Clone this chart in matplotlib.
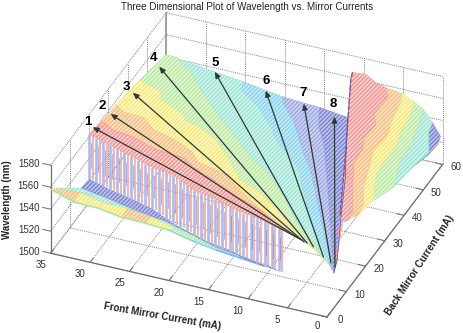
import numpy as np
import matplotlib
matplotlib.use('Agg')
import matplotlib.pyplot as plt
from mpl_toolkits.mplot3d import proj3d
from mpl_toolkits.mplot3d.art3d import Poly3DCollection

plt.rcParams['font.family'] = ['Liberation Sans', 'DejaVu Sans']
plt.rcParams['hatch.linewidth'] = 0.8

TITLE = "Three Dimensional Plot of Wavelength vs. Mirror Currents"
front_ticks = [0, 5, 10, 15, 20, 25, 30, 35]
back_ticks = [0, 10, 20, 30, 40, 50, 60]
nm_ticks = [1500, 1520, 1540, 1560, 1580]

# mode jump between the low strip and the plateau (one row per mA)
cliff_front = [35, 34, 33, 32, 31, 30, 29, 28, 27, 26, 25, 24, 23, 22, 21, 20, 19, 18, 17, 16, 15, 14, 13, 12, 11, 10, 9, 8]
cliff_back = [20.0, 19.5, 19.1, 18.6, 18.2, 17.7, 17.3, 16.8, 16.3, 15.9, 15.4, 15.0, 14.5, 14.1, 13.6, 13.1, 12.7, 12.2, 11.8, 11.3, 10.9, 10.4, 9.9, 9.5, 9.0, 8.6, 8.1, 7.7]
cliff_top_nm = [1562.1, 1561.5, 1561, 1560.4, 1559.8, 1559, 1558.4, 1557.8, 1557, 1556.5, 1556.8, 1557, 1557.5, 1555.5, 1553.5, 1552, 1552, 1552, 1551.8, 1551, 1550.5, 1550.1, 1550.4, 1550.8, 1551, 1550.6, 1550.2, 1549.9]
cliff_low_nm = [1521.2, 1520.6, 1520, 1519.5, 1519.4, 1519.4, 1519.3, 1519, 1518.6, 1518.3, 1516.5, 1514.7, 1512.9, 1512.3, 1511.7, 1511.1, 1510, 1509, 1508.2, 1508.8, 1509.4, 1510, 1510, 1510, 1510, 1510.3, 1510.5, 1510.8]

# low strip, one row every 3 mA
strip_front = [35, 32, 29, 26, 23, 20, 17, 14, 11, 8]
strip_edge_nm = [1558.2, 1551.4, 1550.9, 1547.6, 1547.2, 1545.8, 1540.8, 1537.6, 1535.4, 1533.1]  # back = 0
strip_mid_nm = [1552.2, 1553, 1548.5, 1548.5, 1545.7, 1540.7, 1535.7, 1530.7, 1528.5, 1526.2]  # back = 3
strip_blue_back = [16, 14.6, 13.3, 11.9, 10.5, 9.1, 7.8, 6.4, 5, 3.7]
strip_blue_nm = [1522.3, 1523.2, 1523, 1523.5, 1524.8, 1523.5, 1521.8, 1522.9, 1521.1, 1523.2]
strip_top_back = [20.0, 18.6, 17.3, 15.9, 14.5, 13.1, 11.8, 10.4, 9.0, 7.7]
strip_top_nm = [1521.2, 1519.5, 1519.3, 1518.3, 1512.9, 1511.1, 1508.2, 1510, 1510, 1510.8]
strip_mid_band = [1, 2, 2, 1, 2, 3, 4, 5, 5]
strip_cyan_band = [4, 4, 4, 4, 4, 4, 4, 5, 5]

# colour band borders on the plateau left of the second jump
left1_front = [35, 34.7, 32.9, 30.2, 28.6, 26.5, 25.2, 23.1, 21.3, 18.0, 14.1, 10.5, 7.0, 4.4, 3.2]
left1_back = [23.5, 25.9, 24.0, 23.2, 22.0, 20.7, 20.5, 20.1, 17.8, 15.0, 11.2, 8.6, 4.4, 2.4, 1.7]
left1_nm = 1560
left2_front = [35, 33.6, 31.0, 28.9, 26.0, 22.8, 21.6, 17.9, 13.4, 9.7, 5.9, 2.2]
left2_back = [34.1, 32.3, 31.9, 28.6, 27.1, 24.0, 21.3, 19.6, 13.4, 8.9, 5.0, 1.7]
left2_nm = 1556
left3_front = [34.9, 31.6, 31.0, 27.8, 26.3, 24.4, 21.8, 18.3, 15.9, 12.7, 9.4, 5.4, 0.6]
left3_back = [45.7, 43.4, 40.7, 37.9, 35.4, 34.4, 31.6, 25.0, 20.1, 17.2, 12.8, 6.7, 0.3]
left3_nm = 1552
left4_front = [35, 33.5, 32.4, 30.8, 28.4, 24.0, 20.3, 17.6, 14.4, 10.7, 7.1, 0.4]
left4_back = [59.9, 59.8, 57.9, 55.8, 50.9, 43.0, 37.0, 32.3, 28.2, 21.4, 13.7, 2.4]
left4_nm = 1542
left5_front = [25.2, 24.8, 21.6, 18.6, 16.5, 12.4, 9.9, 6.7, 0.5]
left5_back = [59.8, 56.9, 52.6, 46.8, 42.0, 35.5, 28.2, 18.7, 4.2]
left5_nm = 1534
left6_front = [20.3, 19.8, 16.9, 14.2, 11.0, 6.6, 0.8]
left6_back = [60, 58.1, 52.2, 44.7, 36.7, 23.4, 5.8]
left6_nm = 1528
left7_front = [15.6, 14.3, 12.1, 8.4, 4.4, 0.85]
left7_back = [60, 54.2, 47.9, 34.7, 19.9, 6.7]
left7_nm = 1526
left8_front = [12.0, 9.0, 7.4, 4.4, 1.5, 0.8]
left8_back = [59.9, 46.7, 39.9, 25.1, 11.4, 6.8]
left8_nm = 1523

# colour band borders right of the second jump
right0_front = [6.5, 8.0, 9.8, 11.3, 10.9, 8.9, 5.2, 1.0, 0.0]
right0_back = [57.1, 58.0, 60, 59.5, 57.0, 47.8, 30.8, 10.9, 3.9]
right0_nm = [1566, 1566, 1566, 1566, 1566, 1566, 1566, 1566, 1532]
right1_front = [6.9, 5.9, 5.9, 4.9, 5.1, 4.3, 4.2, 3.6, 2.1, 0.3, 0.1, 0.5]
right1_back = [58.5, 55.7, 48.5, 45.3, 40.0, 35.9, 30.9, 28.5, 21.7, 14.3, 11.3, 10.2]
right1_nm = 1562
right2_front = [5.2, 4.6, 4.0, 3.3, 3.6, 3.1, 1.6, 0.2, 0.0]
right2_back = [60, 56.9, 49.4, 45.1, 39.0, 35.4, 25.4, 19.7, 16.2]
right2_nm = [1556, 1556, 1556, 1556, 1556, 1556, 1556, 1556, 1555.5]
right3_front = [3.7, 3.1, 2.6, 1.9, 2.0, 1.6, 0.0]
right3_back = [60.1, 56.2, 48.7, 43.3, 37.3, 31.6, 24.0]
right3_nm = [1551, 1551, 1551, 1551, 1551, 1551, 1550.2]
right4_front = [2.4, 1.6, 0.95, 0.8, 0.0]
right4_back = [60, 53.9, 47.2, 41.4, 34.4]
right4_nm = [1546, 1546, 1546, 1546, 1538]
right5_front = [1.3, 0.9, 0.0, 0.0]
right5_back = [60, 56.5, 52.7, 44.3]
right5_nm = [1536, 1536, 1527.7, 1533.5]
right6_front = [0.0, 0.0, 0.0]
right6_back = [58.9, 57.4, 52.7]
right6_nm = [1528, 1524.2, 1525.9]

# numbered arrows: tip and tail on the surface
arrow_labels = ['1', '2', '3', '4', '5', '6', '7', '8']
arrow_tip_front = [35.2, 34.7, 34.4, 34.4, 28.8, 22.4, 17.5, 13.5]
arrow_tip_back = [22.6, 29.9, 40.2, 53.9, 59.8, 60, 59.7, 59.2]
arrow_tip_nm = [1562, 1558, 1554, 1546, 1537, 1530, 1527, 1523]
arrow_tail_front = [6.0, 5.5, 5.0, 4.6, 3.6, 1.7, 0.4, 0.1]
arrow_tail_back = [9.5, 9.1, 8.6, 8.5, 7.7, 5.1, 3.7, 4.5]
arrow_tail_nm = [1540, 1540, 1540, 1540, 1540, 1540, 1540, 1535]
label_shift = [(-5, 5), (-8, 8), (-6, 6), (-6, 9), (0, 9), (0, 10), (-1, 11), (-1, 13)]

# red, orange, yellow, green, cyan, light blue, periwinkle, dark blue
band_face = ['#fcd0cc', '#fde0c0', '#fdf6bc', '#e0f6cc', '#d0f4ea', '#c4ecf6', '#ccd4f2', '#bcc2ea']
band_hatch = ['#f28a88', '#f8b878', '#f4e678', '#b4e8a4', '#94e2d2', '#80cceb', '#949fe0', '#7078cc']

fig = plt.figure(figsize=(4.63, 3.33), dpi=100)
ax = fig.add_axes([0, 0, 300 / 463, 300 / 333], projection='3d', computed_zorder=False, proj_type='ortho')
ax.set_xlim(0, 60)
ax.set_ylim(0, 35)
ax.set_zlim(1500, 1580)
ax.set_box_aspect((1, 1, 0.352))
ax.view_init(elev=33.5, azim=-157.3)
ax.set_axis_off()


def to_view(back, front, nm):
    x, y, _ = proj3d.proj_transform(back, front, nm, ax.get_proj())
    return float(x), float(y)


# place the box so its floor corners land where they do in the figure
ax.apply_aspect()
p_left = ax.transData.transform(to_view(0, 35, 1500))
p_right = ax.transData.transform(to_view(60, 0, 1500))
p_near = ax.transData.transform(to_view(0, 0, 1500))
ratio = 392 / (p_right[0] - p_left[0])
side = 300 * ratio
ax.set_position([(327 - p_near[0] * ratio) / 463, (16 - p_near[1] * ratio) / 333, side / 463, side / 333])
ax.apply_aspect()


def band_poly(edge_a, edge_b, band, z):
    fa, ba, na = edge_a
    fb, bb, nb = edge_b
    na = np.broadcast_to(na, np.shape(fa))
    nb = np.broadcast_to(nb, np.shape(fb))
    verts = list(zip(ba, fa, na)) + list(zip(bb[::-1], fb[::-1], nb[::-1]))
    poly = Poly3DCollection([verts], facecolors=band_face[band], edgecolors=band_hatch[band],
                            linewidths=0.3, hatch='////////', zorder=z)
    ax.add_collection3d(poly, autolim=False)


# box and grid
dot = dict(color='#858585', lw=0.7, ls=(0, (1, 1)), zorder=1)
for f in front_ticks:
    ax.plot([0, 60], [f, f], [1500, 1500], **dot)
    ax.plot([60, 60], [f, f], [1500, 1580], **dot)
for b in back_ticks:
    ax.plot([b, b], [0, 35], [1500, 1500], **dot)
    ax.plot([b, b], [35, 35], [1500, 1580], **dot)
for n in nm_ticks:
    ax.plot([0, 60], [35, 35], [n, n], **dot)
    ax.plot([60, 60], [0, 35], [n, n], **dot)

solid = dict(color='#6e6e6e', lw=0.9, zorder=2)
ax.plot([0, 0], [0, 35], [1500, 1500], **solid)
ax.plot([0, 60], [0, 0], [1500, 1500], **solid)
ax.plot([0, 0], [35, 35], [1500, 1580], **solid)
ax.plot([60, 60], [35, 35], [1500, 1580], color='#a0a0a0', lw=1.4, zorder=2)
for f in front_ticks:
    ax.plot([0, 1.6], [f, f], [1500, 1500], color='#6e6e6e', lw=0.7, zorder=2)
for b in back_ticks:
    ax.plot([b, b], [0, 0.9], [1500, 1500], color='#6e6e6e', lw=0.7, zorder=2)
for n in nm_ticks:
    ax.plot([0, 0], [35, 36], [n, n], color='#6e6e6e', lw=0.7, zorder=2)

# low strip in front of the first jump
zero_back = [0] * len(strip_front)
three_back = [3] * len(strip_front)
for i in range(len(strip_front) - 1):
    seg = [i, i + 1]
    f = [strip_front[k] for k in seg]
    band_poly((f, [zero_back[k] for k in seg], [strip_edge_nm[k] for k in seg]),
              (f, [three_back[k] for k in seg], [strip_mid_nm[k] for k in seg]), strip_mid_band[i], 5)
    band_poly((f, [three_back[k] for k in seg], [strip_mid_nm[k] for k in seg]),
              (f, [strip_blue_back[k] for k in seg], [strip_blue_nm[k] for k in seg]), strip_cyan_band[i], 4)
    outline = '#a6e6a4' if i < 5 else '#8ed6e6' if i < 7 else '#8eaeec'
    ax.plot([0, 0], f, [strip_edge_nm[k] for k in seg], color=outline, lw=1.1, zorder=6)
band_poly((strip_front, strip_blue_back, strip_blue_nm), (strip_front, strip_top_back, strip_top_nm), 7, 6)

# the jump itself
for f, b, top, low in zip(cliff_front, cliff_back, cliff_top_nm, cliff_low_nm):
    ax.plot([b, b], [f, f], [low, top], color='#b0bae8', lw=1.9, zorder=7, solid_capstyle='butt')
    ax.plot([b, b], [f - 0.45, f - 0.45], [low, top], color='#f0a0a0', lw=1.1, zorder=7, solid_capstyle='butt')
    ax.plot([b, b], [f - 0.2, f - 0.2], [low + 10, top - 8], color='#8c74b0', lw=0.4, zorder=7)

# plateau, left of the second jump
left_edges = [
    (cliff_front, cliff_back, cliff_top_nm),
    (left1_front, left1_back, left1_nm),
    (left2_front, left2_back, left2_nm),
    (left3_front, left3_back, left3_nm),
    (left4_front, left4_back, left4_nm),
    (left5_front, left5_back, left5_nm),
    (left6_front, left6_back, left6_nm),
    (left7_front, left7_back, left7_nm),
    (left8_front, left8_back, left8_nm),
]
for band in range(7, -1, -1):
    band_poly(left_edges[band], left_edges[band + 1], band, 20 - band)

# plateau, right of the second jump
right_edges = [
    (right0_front, right0_back, right0_nm),
    (right1_front, right1_back, right1_nm),
    (right2_front, right2_back, right2_nm),
    (right3_front, right3_back, right3_nm),
    (right4_front, right4_back, right4_nm),
    (right5_front, right5_back, right5_nm),
    (right6_front, right6_back, right6_nm),
]
right_bands = [0, 1, 2, 3, 4, 7]
for i in range(5, -1, -1):
    band_poly(right_edges[i], right_edges[i + 1], right_bands[i], 30 - i)

ax.plot(right0_back[3:8], right0_front[3:8], right0_nm[3:8], color='#e86a6a', lw=0.9, zorder=31)
ax.plot(right0_back[3:8], right0_front[3:8], right0_nm[3:8], color='#4f5cc0', lw=0.8, ls=(0, (4, 2)), zorder=32)
ax.plot(left8_back, left8_front, [left8_nm] * len(left8_back), color='#5560c4', lw=0.6, zorder=31)

# arrows and their numbers
for i, label in enumerate(arrow_labels):
    tip = to_view(arrow_tip_back[i], arrow_tip_front[i], arrow_tip_nm[i])
    tail = to_view(arrow_tail_back[i], arrow_tail_front[i], arrow_tail_nm[i])
    ax.annotate('', xy=tip, xytext=tail, annotation_clip=False, zorder=40,
                arrowprops=dict(arrowstyle='-|>,head_length=0.45,head_width=0.2', color='#2e3a3a', lw=0.9,
                                shrinkA=0, shrinkB=0, mutation_scale=8))
    ax.annotate(label, xy=tip, xytext=label_shift[i], textcoords='offset pixels', annotation_clip=False,
                ha='center', va='center', fontsize=9.5, fontweight='bold', color='black', zorder=41)

# tick labels
tick_style = dict(textcoords='offset pixels', annotation_clip=False, fontsize=7, color='#333333',
                  ha='center', va='center', zorder=41)
for f in front_ticks:
    ax.annotate(str(f), xy=to_view(0, f, 1500), xytext=(-10, -12 if f > 0 else -9), **tick_style)
for b in back_ticks:
    ax.annotate(str(b), xy=to_view(b, 0, 1500), xytext=(13, -3), **tick_style)
for n in nm_ticks:
    ax.annotate(str(n), xy=to_view(0, 35, n), xytext=(-22, 1), **tick_style)

fig.text(247 / 463, 1 - 7 / 333, TITLE, ha='center', va='center', fontsize=7.15, color='#222222')
fig.text(7 / 463, 1 - 200 / 333, 'Wavelength (nm)', rotation=90, ha='center', va='center',
         fontsize=7, fontweight='bold', color='#222222')
fig.text(162 / 463, 1 - 316 / 333, 'Front Mirror Current (mA)', rotation=-10, ha='center', va='center',
         fontsize=7, fontweight='bold', color='#222222')
fig.text(420 / 463, 1 - 265 / 333, 'Back Mirror Current (mA)', rotation=57, ha='center', va='center',
         fontsize=7, fontweight='bold', color='#222222')

fig.savefig('out.png', dpi=100)
